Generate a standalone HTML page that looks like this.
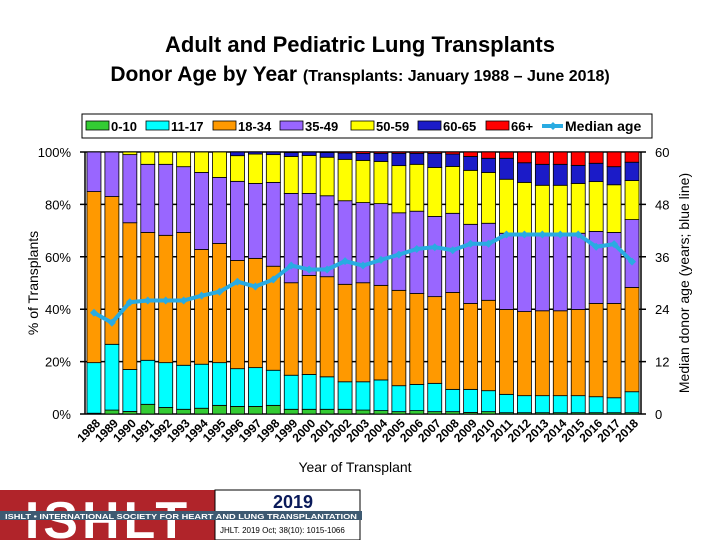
<!DOCTYPE html>
<html><head><meta charset="utf-8"><style>
body{margin:0;background:#fff;width:720px;height:540px;overflow:hidden;font-family:"Liberation Sans",Arial,sans-serif}
svg text{font-family:"Liberation Sans",Arial,sans-serif}
</style></head><body>
<svg id="c" width="720" height="540" xmlns="http://www.w3.org/2000/svg">
<text x="360" y="52" text-anchor="middle" font-size="22" font-weight="bold">Adult and Pediatric Lung Transplants</text>
<text x="360" y="81" text-anchor="middle"><tspan font-size="21" font-weight="bold">Donor Age by Year </tspan><tspan font-size="16" font-weight="bold">(Transplants: January 1988 – June 2018)</tspan></text>
<g id="legend"></g>
<g id="plot"></g>
<text transform="translate(38,283) rotate(-90)" text-anchor="middle" font-size="14">% of Transplants</text>
<text transform="translate(689,283) rotate(-90)" text-anchor="middle" font-size="14">Median donor age (years; blue line)</text>
<text x="355" y="472" text-anchor="middle" font-size="14">Year of Transplant</text>
<g>
<rect x="0" y="490" width="215" height="50" fill="#b0242a"/>
<text x="108" y="538" text-anchor="middle" font-size="52" font-weight="bold" fill="#fff" letter-spacing="4">ISHLT</text>
<rect x="215" y="490" width="145" height="50" fill="#fff" stroke="#000" stroke-width="1"/>
<text x="293" y="508" text-anchor="middle" font-size="18" font-weight="bold" fill="#0a1a5a">2019</text>
<rect x="0" y="511" width="362" height="9" fill="#3e5a72"/>
<text x="5" y="519" font-size="7.5" font-weight="bold" fill="#fff" textLength="352" lengthAdjust="spacingAndGlyphs">ISHLT • INTERNATIONAL SOCIETY FOR HEART AND LUNG TRANSPLANTATION</text>
<text x="220" y="533" font-size="8" fill="#000">JHLT. 2019 Oct; 38(10): 1015-1066</text>
</g>
</svg>
<script>
const years=[1988,1989,1990,1991,1992,1993,1994,1995,1996,1997,1998,1999,2000,2001,2002,2003,2004,2005,2006,2007,2008,2009,2010,2011,2012,2013,2014,2015,2016,2017,2018];
const seriesNames=["0-10","11-17","18-34","35-49","50-59","60-65","66+"];
const age0to10=[0.3,1.5,1,3.7,2.5,1.8,2.2,3.3,2.9,2.9,3.3,1.8,1.8,1.8,1.8,1.5,1.3,0.9,1.3,0.9,0.9,0.6,0.9,0.5,0.5,0.5,0.5,0.5,0.5,0.5,0.5];
const age11to17=[19.3,25.1,16,16.8,17.1,16.8,16.8,16.3,14.4,14.8,13.4,13,13.3,12.4,10.5,10.8,11.7,9.9,10,10.8,8.5,8.8,8,7,6.5,6.5,6.5,6.5,6.1,5.7,8];
const age18to34=[65.3,56.4,56,48.8,48.6,50.7,43.8,45.5,41.3,41.7,39.7,35.3,37.8,38.2,37.2,37.8,36.1,36.4,34.7,33.1,37,32.8,34.5,32.4,32.1,32.4,32.4,32.9,35.6,36,39.8];
const age35to49=[15.1,17,26,26,27.1,25.1,29.4,25.2,30.2,28.6,32,34.1,31.3,30.9,31.9,30.6,31.2,29.6,31.4,30.6,30.2,30.2,29.4,29.1,29.9,29.6,29.6,29.1,27.5,27.1,25.9];
const age50to59=[0,0,1,4.7,4.7,5.6,7.8,9.7,9.8,11.2,10.6,14.1,14.5,14.7,15.8,16.1,16.1,18,17.9,18.7,17.9,20.6,19.4,20.6,19.4,18.3,18.3,19,19,18.2,14.9];
const age60to65=[0,0,0,0,0,0,0,0,1.4,0.8,1,1.5,1.3,1.8,2.4,2.7,3.1,4.7,4.2,5.4,4.7,5.3,5.4,8,7.5,8,8,6.9,7,6.9,7];
const age66plus=[0,0,0,0,0,0,0,0,0,0,0,0.2,0,0.2,0.4,0.6,0.5,0.5,0.5,0.5,0.8,1.7,2.4,2.4,4.1,4.7,4.7,5.1,4.3,5.6,3.9];
const medianAge=[23.2,20.9,25.6,26,26,26,27.1,28,30.3,29.2,30.8,34,33.1,33.1,35,34,35.3,36.5,37.8,38.2,37.5,39,39,41.1,41.1,41.1,41.1,41.1,38.3,38.9,34.9];
const yTicks=["0%","20%","40%","60%","80%","100%"];
const y2Ticks=["0","12","24","36","48","60"];
const colors=["#33cc33","#00ffff","#ff9900","#9966ff","#ffff00","#1b1bc8","#ff0000"];
const series=[age0to10,age11to17,age18to34,age35to49,age50to59,age60to65,age66plus];

const NS="http://www.w3.org/2000/svg";
const L=85,R=641,T=152,B=414;
const step=(R-L)/years.length, bw=14;
const y=v=>B-(v/100)*(B-T);
const y2=v=>B-(v/60)*(B-T);
const xc=i=>L+step*(i+0.5);
function mk(tag,attrs,parent){const e=document.createElementNS(NS,tag);for(const k in attrs)e.setAttribute(k,attrs[k]);parent.appendChild(e);return e;}
const plot=document.getElementById('plot');
yTicks.forEach((t,k)=>{
  const v=k*20;
  const g=mk('line',{x1:L-5,x2:R+5,y1:y(v),y2:y(v),stroke:'#000','stroke-width':1.5},plot);
  
  
  const tx=mk('text',{x:L-14,y:y(v)+5,'text-anchor':'end','font-size':13},plot);
  tx.textContent=t;
  
  
  const t2=mk('text',{x:R+14,y:y(v)+5,'text-anchor':'start','font-size':13},plot);
  t2.textContent=y2Ticks[k];
  
  
});
mk('line',{x1:L,x2:L,y1:T,y2:B,stroke:'#000','stroke-width':1.5},plot);
mk('line',{x1:R,x2:R,y1:T,y2:B,stroke:'#000','stroke-width':1.5},plot);
years.forEach((yr,i)=>{
  let cum=0;
  series.forEach((s,j)=>{
    const v=s[i]; if(v<=0)return;
    const r=mk('rect',{x:xc(i)-bw/2,y:y(cum+v),width:bw,height:y(cum)-y(cum+v),fill:colors[j],stroke:'#000','stroke-width':0.8},plot);
    
    
    cum+=v;
  });
  const tl=mk('text',{transform:`translate(${xc(i)+7},${B+10}) rotate(-45)`,'text-anchor':'end','font-size':12,'font-weight':'bold'},plot);
  tl.textContent=yr;
  
  
});
const pts=medianAge.map((v,i)=>xc(i)+','+y2(v)).join(' ');
const pl=mk('polyline',{points:pts,fill:'none',stroke:'#29abe2','stroke-width':4},plot);


medianAge.forEach((v,i)=>{
  const p=mk('path',{d:`M${xc(i)-4},${y2(v)} L${xc(i)},${y2(v)-4} L${xc(i)+4},${y2(v)} L${xc(i)},${y2(v)+4}Z`,fill:'#29abe2'},plot);
  
  
});
const lg=document.getElementById('legend');
mk('rect',{x:82,y:114,width:570,height:24,fill:'#fff',stroke:'#000','stroke-width':1},lg);
const lx=[86,146,213,280,351,418,486];
seriesNames.forEach((n,j)=>{
  const s=mk('rect',{x:lx[j],y:121,width:23,height:9,fill:colors[j],stroke:'#000','stroke-width':0.8},lg);
  
  
  const t=mk('text',{x:lx[j]+25,y:131,'font-size':13,'font-weight':'bold'},lg);
  t.textContent=n;
  
  
});
mk('line',{x1:542,x2:563,y1:126,y2:126,stroke:'#29abe2','stroke-width':4},lg);
mk('path',{d:'M549,126 L553,122 L557,126 L553,130Z',fill:'#29abe2'},lg);
const mt=mk('text',{x:565,y:131,'font-size':14,'font-weight':'bold'},lg);
mt.textContent='Median age';


</script>
</body></html>
